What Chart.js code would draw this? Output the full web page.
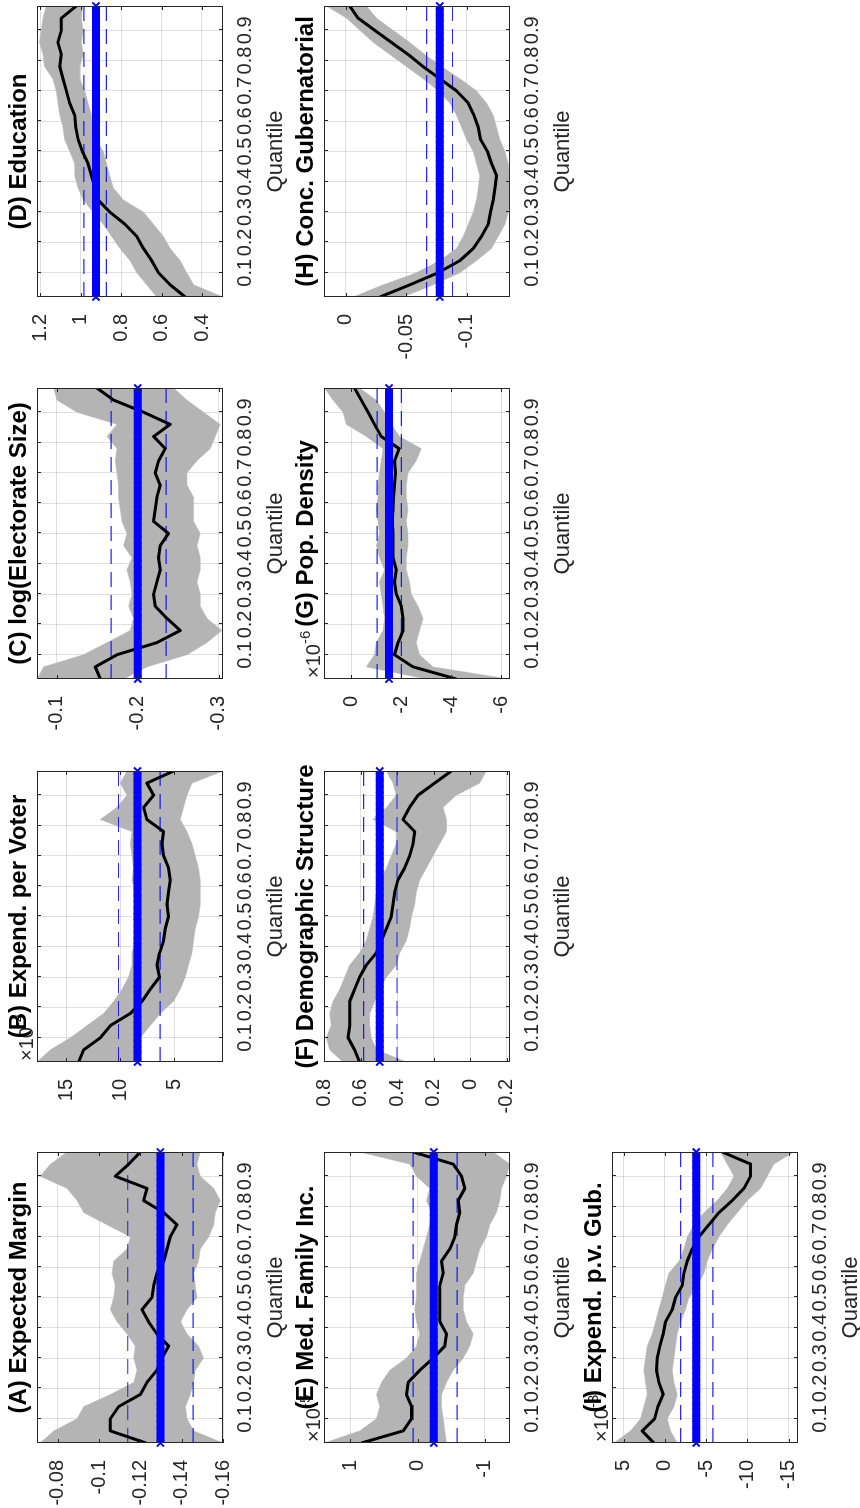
<!DOCTYPE html>
<html>
<head>
<meta charset="utf-8">
<script src="https://cdn.jsdelivr.net/npm/chart.js@4.4.1/dist/chart.umd.min.js"></script>
<style>
html,body{margin:0;padding:0;background:#fff;overflow:hidden;width:860px;height:1508px;}
#stage{position:absolute;left:0;top:0;width:1508px;height:860px;transform-origin:0 0;transform:translateY(1508px) rotate(-90deg);}
.panel{position:absolute;}
</style>
</head>
<body>
<div id="stage"></div>
<script>
// ---------------- data ----------------
const quantiles = [0.02,0.06,0.10,0.14,0.18,0.22,0.26,0.30,0.34,0.38,0.42,0.46,0.50,0.54,0.58,0.62,0.66,0.70,0.74,0.78,0.82,0.86,0.90,0.94,0.98];
const xTicks = [0.1,0.2,0.3,0.4,0.5,0.6,0.7,0.8,0.9];
const titles = ["(A) Expected Margin","(B) Expend. per Voter","(C) log(Electorate Size)","(D) Education",
                "(E) Med. Family Inc.","(F) Demographic Structure","(G) Pop. Density","(H) Conc. Gubernatorial",
                "(I) Expend. p.v. Gub."];
const xLabel = "Quantile";

// (A) Expected Margin
const lineA  = [-0.1227,-0.1055,-0.1055,-0.1095,-0.12,-0.1232,-0.128,-0.1305,-0.1337,-0.128,-0.124,-0.1208,-0.1256,-0.1265,-0.128,-0.1313,-0.1329,-0.1345,-0.1377,-0.1313,-0.1216,-0.1232,-0.1079,-0.1144,-0.12];
const upperA = [-0.0716,-0.0781,-0.0894,-0.0926,-0.1055,-0.1168,-0.1184,-0.1168,-0.1176,-0.1135,-0.1087,-0.1055,-0.1071,-0.1079,-0.1063,-0.1071,-0.1135,-0.1152,-0.1039,-0.0926,-0.0894,-0.0845,-0.0716,-0.0765,-0.0845];
const lowerA = [-0.16,-0.1458,-0.1426,-0.1418,-0.1442,-0.1458,-0.1466,-0.1506,-0.1482,-0.1426,-0.1394,-0.1426,-0.1474,-0.1466,-0.1458,-0.1482,-0.149,-0.1531,-0.1555,-0.1563,-0.1587,-0.1555,-0.149,-0.1474,-0.149];
const olsA = -0.1297, ciA = [-0.1139,-0.1455];
const yTicksA = [-0.16,-0.14,-0.12,-0.1,-0.08], yRangeA = [-0.16,-0.07];

// (B) Expend. per Voter (x10^-4)
const lineB  = [13.83,13.37,11.83,10.91,9.06,7.99,7.22,6.36,6.6,6.36,5.99,5.83,5.53,5.68,5.53,5.37,5.53,5.99,6.14,5.99,7.53,7.83,6.91,7.53,5.07];
const upperB = [17.68,16.45,14.6,13.07,11.53,10.6,9.83,9.22,8.91,8.91,8.6,8.45,8.45,8.6,8.6,8.91,8.76,8.91,9.06,8.91,11.83,10.3,9.37,9.99,9.37];
const lowerB = [8.14,8.45,8.14,7.22,6.3,5.07,4.45,3.99,3.68,3.37,3.22,3.07,2.76,2.6,2.6,2.6,2.76,3.07,3.37,3.83,4.45,4.14,3.83,3.37,0.5];
const olsB = 8.4, ciB = [10.15,6.31];
const yTicksB = [5,10,15], yRangeB = [0.5,17.68];

// (C) log(Electorate Size)
const lineC  = [-0.1536,-0.1474,-0.1742,-0.2237,-0.2526,-0.2361,-0.2216,-0.2196,-0.2237,-0.2278,-0.2258,-0.2278,-0.2381,-0.2196,-0.2216,-0.2237,-0.2278,-0.2216,-0.2258,-0.234,-0.2196,-0.2402,-0.2072,-0.1701,-0.1495];
const upperC = [-0.0753,-0.0835,-0.133,-0.1619,-0.1907,-0.1948,-0.1887,-0.1928,-0.1907,-0.1866,-0.1928,-0.1825,-0.1866,-0.1804,-0.1784,-0.1763,-0.1763,-0.1742,-0.1722,-0.1742,-0.1619,-0.1742,-0.1247,-0.1,-0.0959];
const lowerC = [-0.1825,-0.2113,-0.2608,-0.2856,-0.3041,-0.2856,-0.2773,-0.2773,-0.2732,-0.2773,-0.2773,-0.2732,-0.2773,-0.2691,-0.2691,-0.2691,-0.2608,-0.2608,-0.2732,-0.2897,-0.2959,-0.3021,-0.2814,-0.2608,-0.2443];
const olsC = -0.2, ciC = [-0.167,-0.235];
const yTicksC = [-0.3,-0.2,-0.1], yRangeC = [-0.3055,-0.0753];

// (D) Education
const lineD  = [0.483,0.557,0.615,0.649,0.69,0.723,0.781,0.856,0.914,0.93,0.947,0.964,0.992,1.013,1.025,1.03,1.055,1.071,1.088,1.104,1.096,1.113,1.096,1.096,1.022];
const upperD = [0.624,0.673,0.723,0.756,0.806,0.848,0.889,0.939,0.988,1.013,1.03,1.03,1.055,1.08,1.088,1.104,1.113,1.121,1.138,1.179,1.187,1.204,1.196,1.187,1.171];
const lowerD = [0.296,0.441,0.475,0.508,0.557,0.591,0.64,0.69,0.789,0.839,0.856,0.872,0.889,0.922,0.939,0.947,0.964,0.98,1.005,1.005,0.988,0.997,0.988,0.997,0.99];
const olsD = 0.925, ciD = [0.985,0.873];
const yTicksD = [0.4,0.6,0.8,1,1.2], yRangeD = [0.296,1.2165];

// (E) Med. Family Inc. (x10^-5)
const lineE  = [0.834,0.213,0.089,0.089,0.164,0.139,-0.035,-0.233,-0.407,-0.432,-0.333,-0.333,-0.333,-0.333,-0.382,-0.357,-0.481,-0.556,-0.581,-0.63,-0.605,-0.705,-0.655,-0.531,0.065];
const upperE = [1.39,0.859,0.61,0.561,0.61,0.536,0.412,0.164,0.015,-0.035,0.015,0.04,0.015,0.015,0.015,-0.035,-0.084,-0.134,-0.184,-0.208,-0.134,-0.184,0.015,0.114,0.859];
const lowerE = [-0.432,-0.407,-0.382,-0.357,-0.357,-0.432,-0.531,-0.68,-0.779,-0.829,-0.73,-0.68,-0.68,-0.705,-0.829,-0.878,-0.928,-1.027,-1.077,-1.176,-1.226,-1.251,-1.325,-1.375,-1.127];
const olsE = -0.243, ciE = [0.065,-0.59];
const yTicksE = [-1,0,1], yRangeE = [-1.377,1.392];

// (F) Demographic Structure
const lineF  = [0.605,0.632,0.668,0.659,0.659,0.659,0.632,0.605,0.568,0.513,0.486,0.458,0.431,0.422,0.413,0.395,0.358,0.331,0.312,0.303,0.367,0.331,0.285,0.194,0.102];
const upperF = [0.696,0.769,0.787,0.76,0.769,0.751,0.714,0.687,0.659,0.605,0.568,0.55,0.532,0.522,0.513,0.495,0.458,0.431,0.404,0.404,0.532,0.458,0.404,0.422,0.458];
const lowerF = [0.349,0.513,0.541,0.55,0.55,0.522,0.495,0.458,0.404,0.385,0.349,0.331,0.321,0.303,0.294,0.276,0.239,0.203,0.166,0.129,0.129,0.148,0.075,-0.053,-0.089];
const olsF = 0.495, ciF = [0.583,0.4];
const yTicksF = [-0.2,0,0.2,0.4,0.6,0.8], yRangeF = [-0.219,0.8];

// (G) Pop. Density (x10^-6)
const lineG  = [-4.2,-2.47,-1.73,-1.87,-2.07,-2.07,-2.0,-1.8,-1.73,-1.8,-1.67,-1.67,-1.67,-1.64,-1.67,-1.69,-1.73,-1.77,-1.73,-1.91,-1.2,-0.93,-0.67,-0.4,-0.13];
const upperG = [-3.0,-0.6,-0.93,-1.0,-1.27,-1.33,-1.27,-1.2,-1.13,-1.33,-1.13,-1.0,-1.13,-1.07,-1.0,-1.07,-1.07,-1.13,-1.2,-1.27,-0.6,0.2,0.33,0.73,1.07];
const lowerG = [-6.27,-3.27,-2.73,-2.6,-2.73,-2.87,-2.67,-2.4,-2.33,-2.2,-2.2,-2.27,-2.27,-2.2,-2.27,-2.2,-2.2,-2.27,-2.6,-2.8,-1.93,-1.6,-1.33,-1.0,-0.33];
const olsG = -1.51, ciG = [-1.03,-2.0];
const yTicksG = [-6,-4,-2,0], yRangeG = [-6.35,1.093];

// (H) Conc. Gubernatorial
const lineH  = [-0.0282,-0.053,-0.0765,-0.0945,-0.1055,-0.1124,-0.118,-0.1199,-0.1221,-0.1235,-0.1249,-0.1207,-0.1174,-0.1116,-0.1097,-0.1061,-0.1014,-0.0917,-0.0779,-0.0641,-0.0517,-0.0378,-0.024,-0.0102,-0.0033];
const upperH = [-0.0061,-0.0309,-0.0586,-0.0779,-0.0917,-0.0972,-0.1014,-0.1055,-0.1083,-0.1097,-0.111,-0.1083,-0.1055,-0.1,-0.0959,-0.0917,-0.0862,-0.0765,-0.0641,-0.0503,-0.0365,-0.0227,-0.0116,-0.0006,0.016];
const lowerH = [-0.0475,-0.0724,-0.0945,-0.1083,-0.1207,-0.1262,-0.1318,-0.1345,-0.1359,-0.1359,-0.1359,-0.1345,-0.1318,-0.1276,-0.1249,-0.1221,-0.1166,-0.1083,-0.0945,-0.0793,-0.0655,-0.053,-0.0392,-0.0254,-0.0171];
const olsH = -0.0779, ciH = [-0.0669,-0.0884];
const yTicksH = [-0.1,-0.05,0], yRangeH = [-0.136,0.018];

// (I) Expend. p.v. Gub. (x10^-3)
const lineI  = [1.33,2.75,1.25,0.85,0.2,0.73,1.01,0.93,0.61,0.2,-0.08,-0.89,-1.29,-2.1,-2.3,-2.71,-3.31,-4.12,-5.33,-6.55,-8.16,-9.58,-10.38,-10.38,-6.95];
const upperI = [6.18,4.16,2.95,2.55,2.14,2.34,2.55,2.34,2.14,1.54,1.13,0.73,0.32,-0.08,-0.48,-1.7,-2.3,-2.71,-3.52,-4.73,-6.34,-7.56,-8.36,-7.56,-6.75];
const lowerI = [-1.49,-0.69,-0.28,-1.09,-1.49,-1.09,-0.89,-1.09,-1.29,-1.49,-1.9,-2.5,-2.91,-3.92,-4.73,-5.13,-5.74,-6.55,-7.56,-8.77,-9.98,-11.6,-12.4,-13.21,-15.6];
const olsI = -3.8, ciI = [-1.9,-5.82];
const yTicksI = [-15,-10,-5,0,5], yRangeI = [-16.13,6.41];

const exponents = ["", "-4", "", "", "-5", "", "-6", "", "-3"];

// ---------------- layout & style ----------------
const FONT = "'Liberation Sans', Arial, Helvetica, sans-serif";
Chart.defaults.font.family = FONT;
const BOX_LEFTS = [65, 446, 829, 1211];
const BOX_TOPS = [37, 324, 612];
const BOX_W = 291, BOX_H = 186;
const PAD_L = 65, PAD_T = 37, PAD_R = 10, PAD_B = 70;
const BAND = '#b4b4b4', BLUE = 'rgb(0,0,255)', DASH = 'rgba(0,0,255,0.85)';
const GRID = 'rgba(38,38,38,0.15)', AXIS = '#262626', TXT = '#262626';

const panels = [
  {line: lineA, upper: upperA, lower: lowerA, ols: olsA, ci: ciA, ticks: yTicksA, range: yRangeA},
  {line: lineB, upper: upperB, lower: lowerB, ols: olsB, ci: ciB, ticks: yTicksB, range: yRangeB},
  {line: lineC, upper: upperC, lower: lowerC, ols: olsC, ci: ciC, ticks: yTicksC, range: yRangeC},
  {line: lineD, upper: upperD, lower: lowerD, ols: olsD, ci: ciD, ticks: yTicksD, range: yRangeD},
  {line: lineE, upper: upperE, lower: lowerE, ols: olsE, ci: ciE, ticks: yTicksE, range: yRangeE},
  {line: lineF, upper: upperF, lower: lowerF, ols: olsF, ci: ciF, ticks: yTicksF, range: yRangeF},
  {line: lineG, upper: upperG, lower: lowerG, ols: olsG, ci: ciG, ticks: yTicksG, range: yRangeG},
  {line: lineH, upper: upperH, lower: lowerH, ols: olsH, ci: ciH, ticks: yTicksH, range: yRangeH},
  {line: lineI, upper: upperI, lower: lowerI, ols: olsI, ci: ciI, ticks: yTicksI, range: yRangeI}
];

const decor = {
  id: 'decor',
  afterDatasetsDraw(chart, args, opts) {
    const {ctx, chartArea: a, scales: {x, y}} = chart;
    ctx.save();
    ctx.strokeStyle = AXIS; ctx.lineWidth = 1;
    ctx.beginPath();
    xTicks.forEach(v => {
      const px = Math.round(x.getPixelForValue(v)) + 0.5;
      ctx.moveTo(px, a.bottom); ctx.lineTo(px, a.bottom - 4);
      ctx.moveTo(px, a.top); ctx.lineTo(px, a.top + 4);
    });
    opts.yTicks.forEach(v => {
      const py = Math.round(y.getPixelForValue(v)) + 0.5;
      ctx.moveTo(a.left, py); ctx.lineTo(a.left + 4, py);
      ctx.moveTo(a.right, py); ctx.lineTo(a.right - 4, py);
    });
    ctx.stroke();
    ctx.strokeRect(a.left + 0.5, a.top + 0.5, a.right - a.left - 1, a.bottom - a.top - 1);
    ctx.restore();
  },
  afterDraw(chart, args, opts) {
    const {ctx, chartArea: a} = chart;
    const cx = (a.left + a.right) / 2;
    ctx.save();
    if (opts.exponent) {
      ctx.fillStyle = TXT;
      ctx.textAlign = 'left'; ctx.textBaseline = 'alphabetic';
      ctx.font = `20px ${FONT}`;
      const base = '\u00d710';
      ctx.fillText(base, a.left + 1, a.top - 4);
      const w = ctx.measureText(base).width;
      ctx.font = `15px ${FONT}`;
      ctx.fillText(opts.exponent, a.left + 1 + w, a.top - 14);
    }
    ctx.fillStyle = '#000';
    ctx.textAlign = 'center'; ctx.textBaseline = 'alphabetic';
    ctx.font = `bold 24px ${FONT}`;
    ctx.fillText(opts.title, cx, a.top - 11);
    ctx.fillStyle = TXT;
    ctx.font = `22px ${FONT}`;
    ctx.textBaseline = 'middle';
    ctx.fillText(xLabel, cx, a.bottom + 53);
    ctx.restore();
  }
};

const stage = document.getElementById('stage');
const W = PAD_L + BOX_W + PAD_R, H = PAD_T + BOX_H + PAD_B;
const qFirst = quantiles[0], qLast = quantiles[quantiles.length - 1];
const pts = arr => quantiles.map((q, i) => ({x: q, y: arr[i]}));

panels.forEach((p, idx) => {
  const row = Math.floor(idx / 4), col = idx % 4;
  const wrap = document.createElement('div');
  wrap.className = 'panel';
  wrap.style.left = (BOX_LEFTS[col] - PAD_L) + 'px';
  wrap.style.top = (BOX_TOPS[row] - PAD_T) + 'px';
  const cv = document.createElement('canvas');
  cv.width = W; cv.height = H;
  cv.style.width = W + 'px'; cv.style.height = H + 'px';
  wrap.appendChild(cv);
  stage.appendChild(wrap);

  new Chart(cv, {
    type: 'line',
    data: {
      datasets: [
        {data: pts(p.upper), fill: '+1', backgroundColor: BAND, borderColor: BAND, borderWidth: 0.5, pointRadius: 0, order: 5},
        {data: pts(p.lower), fill: false, borderColor: BAND, borderWidth: 0.5, pointRadius: 0, order: 5},
        {data: [{x: qFirst, y: p.ci[0]}, {x: qLast, y: p.ci[0]}], borderColor: DASH, borderWidth: 1.2, borderDash: [15, 8], pointRadius: 0, fill: false, order: 3},
        {data: [{x: qFirst, y: p.ci[1]}, {x: qLast, y: p.ci[1]}], borderColor: DASH, borderWidth: 1.2, borderDash: [15, 8], pointRadius: 0, fill: false, order: 3},
        {data: pts(p.line), borderColor: '#000', borderWidth: 3, pointRadius: 0, fill: false, order: 2, borderJoinStyle: 'round'},
        {data: quantiles.map(q => ({x: q, y: p.ols})), borderColor: BLUE, borderWidth: 8, pointStyle: 'crossRot', pointRadius: 5,
         pointBorderWidth: 2, pointBorderColor: BLUE, pointBackgroundColor: BLUE, fill: false, order: 1, clip: false}
      ]
    },
    options: {
      responsive: false,
      animation: false,
      events: [],
      layout: {padding: {top: PAD_T, right: PAD_R, left: 0, bottom: 0}},
      elements: {line: {tension: 0}},
      plugins: {
        legend: {display: false},
        tooltip: {enabled: false},
        decor: {title: titles[idx], exponent: exponents[idx], yTicks: p.ticks}
      },
      scales: {
        x: {
          type: 'linear', min: qFirst, max: qLast,
          afterBuildTicks: s => { s.ticks = xTicks.map(v => ({value: v})); },
          afterFit: s => { s.height = PAD_B; },
          grid: {color: GRID, drawTicks: false, lineWidth: 1},
          border: {display: false},
          ticks: {font: {size: 20}, color: TXT, padding: 10, maxRotation: 0, autoSkip: false, callback: v => String(v)}
        },
        y: {
          type: 'linear', min: p.range[0], max: p.range[1],
          afterBuildTicks: s => { s.ticks = p.ticks.map(v => ({value: v})); },
          afterFit: s => { s.width = PAD_L; },
          grid: {color: GRID, drawTicks: false, lineWidth: 1},
          border: {display: false},
          ticks: {font: {size: 20}, color: TXT, padding: 17, callback: v => String(v)}
        }
      }
    },
    plugins: [decor]
  });
});
</script>
</body>
</html>
